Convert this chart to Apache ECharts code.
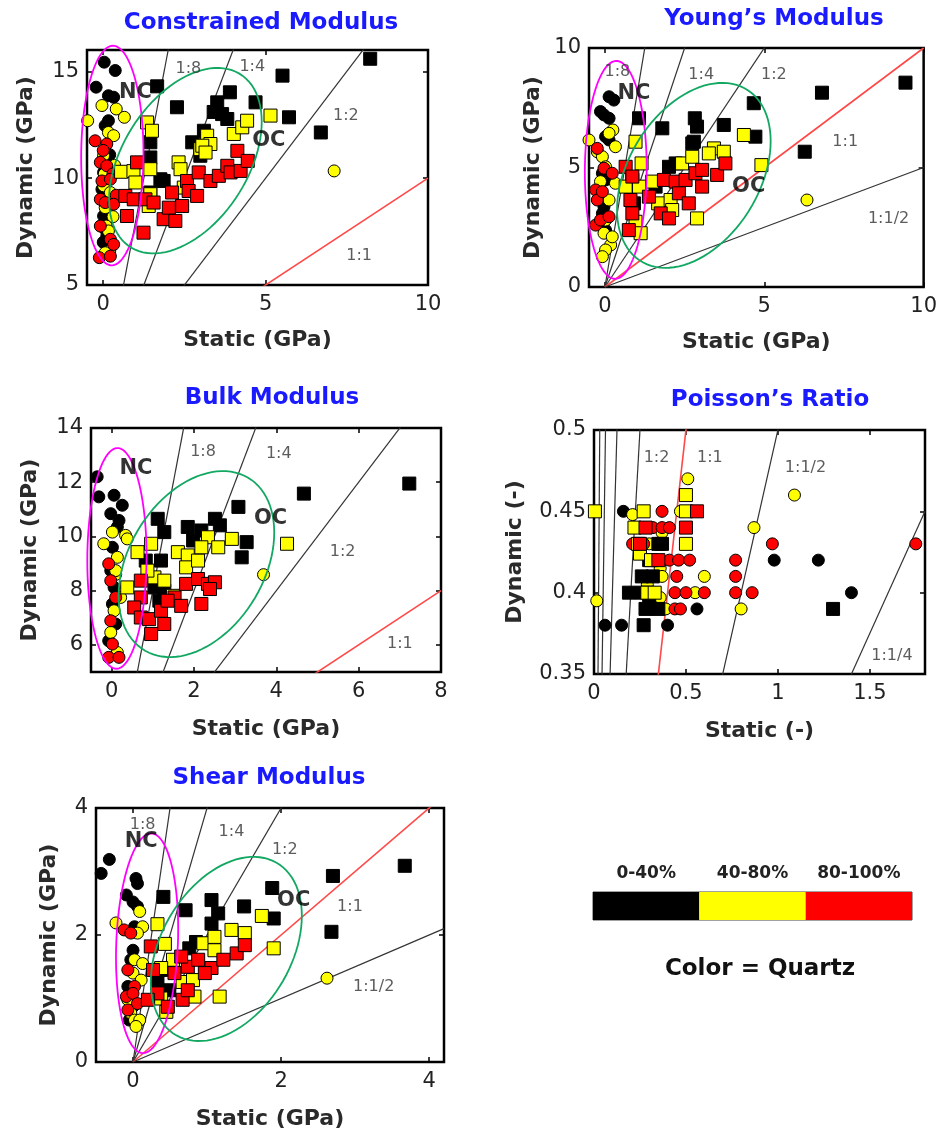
<!DOCTYPE html>
<html>
<head>
<meta charset="utf-8">
<script src="https://cdn.jsdelivr.net/npm/echarts@6/dist/echarts.min.js"></script>
<style>html,body{margin:0;background:#fff}#c{width:940px;height:1136px}</style>
</head>
<body>
<div id="c"></div>
<script>
// ---- Constrained modulus (static, dynamic) in GPa
const conNcBlack = [[0.03,15.43],[0.37,15.04],[-0.22,14.26],[0.16,13.86],[0.32,13.79],[0.16,12.69],[0.06,12.46],[0.2,11.1],[0.06,10.89],[0.01,10.27],[-0.04,9.48],[0.01,8.23],[0.1,8.0],[0.06,7.61],[0.11,7.29],[0.25,6.9],[0.0,7.0]];
const conNcYellow = [[-0.48,12.69],[-0.04,13.4],[0.4,13.24],[0.65,12.85],[0.16,12.14],[0.32,11.99],[0.01,11.05],[0.35,10.6],[0.03,10.19],[0.01,9.64],[0.22,9.33],[0.06,8.62],[0.3,8.2],[0.09,7.76],[0.16,7.53],[0.2,6.59],[0.06,6.51],[7.11,10.34]];
const conNcRed = [[-0.25,11.75],[0.11,11.6],[0.0,11.3],[-0.09,10.74],[0.11,10.58],[0.3,10.2],[-0.04,9.87],[0.22,9.95],[0.4,9.2],[-0.09,9.01],[0.06,8.86],[0.32,8.78],[-0.09,7.76],[0.22,7.14],[0.32,6.9],[-0.12,6.28],[0.22,6.35]];
const conOcBlack = [[1.66,14.3],[2.27,13.32],[1.45,11.68],[1.45,10.97],[1.45,9.33],[1.76,9.95],[1.86,9.87],[2.74,11.68],[2.99,11.05],[3.1,12.22],[3.4,13.1],[3.51,13.55],[3.66,13.0],[3.9,14.02],[3.82,12.77],[4.69,13.55],[5.52,14.8],[5.72,12.85],[6.7,12.14],[8.22,15.59]];
const conOcYellow = [[0.55,10.3],[0.93,10.33],[1.35,12.61],[1.5,12.22],[0.99,9.8],[1.45,10.42],[1.45,9.25],[1.4,8.7],[2.32,10.74],[2.38,10.42],[2.48,9.56],[2.99,11.36],[3.2,11.99],[3.3,11.6],[3.05,11.52],[3.15,11.2],[4.02,12.07],[4.28,12.38],[4.43,12.69],[5.15,12.93]];
const conOcRed = [[1.04,10.74],[0.68,9.17],[0.94,9.01],[0.73,8.23],[1.24,7.45],[1.3,9.01],[1.55,8.86],[1.86,8.08],[2.02,8.62],[2.22,8.0],[2.43,8.7],[2.12,9.33],[2.58,9.87],[2.63,9.4],[2.89,9.17],[2.94,10.27],[3.3,9.87],[3.56,10.11],[3.82,10.58],[3.92,10.27],[4.13,11.28],[4.23,10.34],[4.45,10.81]];

// ---- Young's modulus
const yngNcBlack = [[0.13,7.96],[0.28,7.82],[-0.14,7.34],[-0.03,7.2],[0.13,7.06],[0.02,6.29],[0.13,6.15],[-0.08,4.76],[0.02,4.48],[-0.14,3.64],[-0.03,3.36],[-0.08,3.08],[0.02,2.38]];
const yngNcYellow = [[-0.5,6.15],[0.25,6.57],[0.13,6.43],[-0.24,5.66],[0.33,5.87],[-0.08,5.45],[0.02,5.03],[-0.14,4.41],[0.33,4.34],[-0.14,3.92],[0.13,3.64],[0.02,2.8],[-0.03,2.25],[0.18,1.76],[0.02,1.55],[-0.08,1.27],[0.23,2.1],[6.34,3.64]];
const yngNcRed = [[-0.24,5.8],[-0.03,4.97],[-0.29,4.06],[-0.24,3.64],[-0.08,3.99],[-0.29,2.59],[-0.14,2.8],[0.13,2.94],[0.23,4.76]];
const yngOcBlack = [[1.07,7.06],[1.8,6.64],[2.82,7.06],[2.79,6.08],[2.89,6.71],[2.74,6.01],[3.73,6.78],[4.67,7.69],[4.72,6.29],[6.27,5.66],[6.81,8.13],[9.43,8.55],[2.01,5.03],[2.22,5.17],[1.59,4.2],[0.91,3.5],[0.86,4.48]];
const yngOcYellow = [[0.96,6.08],[1.15,5.17],[0.65,4.2],[1.07,4.2],[1.48,4.41],[1.67,3.5],[2.06,3.64],[0.96,2.73],[1.12,2.25],[2.42,5.17],[2.74,5.45],[3.42,5.8],[3.73,5.66],[3.26,5.59],[4.36,6.36],[4.91,5.1],[2.89,2.87],[2.11,3.22]];
const yngOcRed = [[0.65,5.03],[0.86,4.62],[0.8,3.64],[0.86,3.08],[0.75,2.38],[1.38,3.78],[1.75,3.08],[2.01,2.87],[1.85,4.48],[2.22,4.41],[2.53,4.48],[2.32,3.92],[2.84,4.76],[3.05,4.9],[3.52,4.69],[3.78,5.17],[3.05,4.2],[2.63,3.5]];

// ---- Bulk modulus
const blkNcBlack = [[-0.35,12.2],[-0.31,11.46],[0.06,11.52],[0.26,11.15],[-0.02,10.84],[0.18,10.59],[0.14,10.35],[0.02,9.6],[-0.02,8.74],[0.06,8.12],[0.02,7.51],[0.1,6.77],[-0.07,6.15]];
const blkNcYellow = [[0.02,10.16],[-0.19,9.73],[0.34,10.04],[0.38,9.91],[0.14,9.23],[0.1,8.6],[0.06,7.26],[-0.02,6.46],[0.14,5.72],[0.1,8.74],[0.22,7.75],[3.69,8.59]];
const blkNcRed = [[-0.07,8.99],[-0.02,8.37],[0.1,7.75],[-0.02,6.89],[0.02,6.03],[-0.07,5.54],[0.18,5.54]];
const blkOcBlack = [[1.12,10.65],[1.28,10.16],[1.85,10.35],[1.98,9.85],[2.18,10.22],[2.51,10.65],[2.63,10.41],[3.08,11.09],[3.28,9.79],[3.16,9.23],[4.67,11.58],[7.23,11.95],[0.83,9.11],[1.2,9.11],[1.04,8.12],[1.16,7.63],[1.28,8.0]];
const blkOcYellow = [[0.96,9.73],[0.63,9.42],[0.38,8.12],[1.04,8.49],[1.28,8.37],[1.61,9.42],[1.85,9.3],[1.81,8.86],[2.1,9.11],[2.34,9.97],[2.59,9.6],[2.92,9.91],[1.49,7.81],[2.18,9.6],[4.26,9.73],[0.87,8.74]];
const blkOcRed = [[0.71,8.37],[0.71,7.75],[0.55,7.38],[0.71,7.01],[0.96,6.4],[0.91,6.95],[1.28,6.77],[1.2,7.26],[1.53,7.75],[1.69,7.44],[1.81,8.25],[2.1,8.43],[2.18,7.51],[2.34,8.25],[2.51,8.31],[2.39,8.06],[1.36,7.63]];

// ---- Poisson's ratio (dimensionless)
const poiNcBlack = [[0.16,0.45],[0.06,0.38],[0.15,0.38],[0.4,0.38],[0.56,0.39],[0.98,0.42],[1.22,0.42],[1.4,0.4]];
const poiNcYellow = [[0.21,0.448],[0.47,0.45],[0.51,0.47],[0.37,0.437],[0.3,0.43],[0.36,0.415],[0.37,0.41],[0.6,0.41],[0.36,0.397],[0.55,0.4],[0.015,0.395],[0.39,0.39],[0.8,0.39],[0.87,0.44],[1.09,0.46],[0.33,0.4],[0.29,0.405]];
const poiNcRed = [[0.37,0.45],[0.27,0.44],[0.32,0.44],[0.37,0.44],[0.41,0.44],[0.21,0.43],[0.27,0.43],[0.41,0.42],[0.46,0.42],[0.52,0.42],[0.45,0.41],[0.77,0.42],[0.77,0.41],[0.44,0.4],[0.5,0.4],[0.6,0.4],[0.77,0.4],[0.86,0.4],[0.44,0.39],[0.47,0.39],[0.97,0.43],[1.75,0.43]];
const poiOcBlack = [[0.37,0.43],[0.35,0.43],[0.3,0.42],[0.26,0.41],[0.32,0.41],[0.19,0.4],[0.26,0.4],[0.3,0.395],[0.28,0.39],[0.35,0.39],[0.27,0.38],[1.3,0.39]];
const poiOcYellow = [[0.005,0.45],[0.27,0.45],[0.5,0.45],[0.5,0.46],[0.5,0.43],[0.22,0.44],[0.24,0.43],[0.25,0.424],[0.31,0.42],[0.29,0.4],[0.33,0.4]];
const poiOcRed = [[0.56,0.45],[0.5,0.44],[0.25,0.43],[0.35,0.42],[0.28,0.44]];

// ---- Shear modulus
const shrNcBlack = [[-0.43,2.97],[-0.32,3.19],[0.04,2.89],[0.06,2.81],[-0.09,2.63],[0.0,2.52],[0.06,2.45],[0.02,2.13],[0.0,1.76],[-0.03,1.61],[-0.07,1.19],[0.0,0.87],[-0.05,0.66]];
const shrNcYellow = [[-0.23,2.19],[0.09,2.37],[0.13,2.13],[0.06,2.03],[0.02,1.61],[0.13,1.55],[0.0,1.4],[0.11,1.29],[-0.03,0.77],[0.02,0.66],[0.09,0.66],[0.04,0.56],[-0.07,0.98],[2.62,1.32]];
const shrNcRed = [[-0.12,2.08],[-0.03,2.03],[-0.07,1.45],[0.02,1.19],[-0.09,1.03],[0.0,1.08],[0.06,0.92],[-0.07,0.82]];
const shrOcBlack = [[0.41,2.6],[0.71,2.39],[1.06,2.55],[1.15,2.34],[1.06,2.18],[1.5,2.45],[1.88,2.74],[1.9,2.26],[2.7,2.93],[2.68,2.05],[3.67,3.09],[0.76,1.79],[0.85,1.89],[0.38,1.45],[0.33,1.24],[0.49,1.13]];
const shrOcYellow = [[0.33,2.17],[0.43,1.86],[0.54,1.61],[0.38,1.48],[0.67,1.26],[0.81,1.29],[0.95,1.87],[1.1,1.76],[1.1,1.97],[1.33,2.08],[1.51,2.03],[1.74,2.3],[1.9,1.79],[1.17,1.03],[0.38,1.0],[0.45,0.79],[0.83,1.03]];
const shrOcRed = [[0.24,1.82],[0.27,1.45],[0.33,1.08],[0.2,0.98],[0.47,0.87],[0.56,1.4],[0.74,1.5],[0.88,1.61],[1.06,1.48],[1.22,1.61],[1.4,1.71],[1.51,1.84],[0.67,0.98],[0.74,1.13],[0.97,1.4],[0.65,1.66]];

// ratio lines (dynamic = k * static)
const conRatios = [8, 4, 2, 1];
const yngRatios = [8, 4, 2, 1, 0.5];
const blkRatios = [8, 4, 2, 1];
const poiRatios = [16, 8, 4, 2, 1, 0.5, 0.25];
const shrRatios = [8, 4, 2, 1, 0.5];

// ellipses: [cx, cy, rx, ry, tilt]
const conEllipses = [[0.28, 11.06, 0.96, 5.14, 0.02], [2.53, 10.82, 2.35, 4.34, 0.42]];
const yngEllipses = [[0.34, 4.9, 0.97, 4.56, 0.02], [2.79, 4.67, 2.41, 3.87, 0.37]];
const blkEllipses = [[0.13, 9.19, 0.72, 4.07, 0.02], [2.06, 8.98, 1.89, 3.43, 0.34]];
const shrEllipses = [[0.19, 1.87, 0.42, 1.73, 0.13], [1.26, 1.78, 1.02, 1.45, 0.36]];

// annotation labels [text, x, y]
const conRatioText = [['1:8', 2.62, 15.1], ['1:4', 4.59, 15.2], ['1:2', 7.47, 12.92], ['1:1', 7.88, 6.35]];
const yngRatioText = [['1:8', 0.39, 9.01], ['1:4', 3.02, 8.87], ['1:2', 5.3, 8.87], ['1:1', 7.54, 6.08], ['1:1/2', 8.9, 2.87]];
const blkRatioText = [['1:8', 2.22, 13.12], ['1:4', 4.06, 13.06], ['1:2', 5.61, 9.42], ['1:1', 7.0, 6.03]];
const poiRatioText = [['1:2', 0.34, 0.483], ['1:1', 0.63, 0.483], ['1:1/2', 1.15, 0.477], ['1:1/4', 1.62, 0.361]];
const shrRatioText = [['1:8', 0.13, 3.73], ['1:4', 1.33, 3.63], ['1:2', 2.05, 3.34], ['1:1', 2.93, 2.45], ['1:1/2', 3.25, 1.19]];
const conGroupText = [['NC', 0.99, 14.02], ['OC', 5.1, 11.75]];
const yngGroupText = [['NC', 0.91, 8.1], ['OC', 4.51, 4.2]];
const blkGroupText = [['NC', 0.59, 12.5], ['OC', 3.86, 10.66]];
const shrGroupText = [['NC', 0.11, 3.47], ['OC', 2.17, 2.55]];

const quartzBins = ['0-40%', '40-80%', '80-100%'];
const quartzColors = ['#000000', '#ffff00', '#ff0000'];

const FONT = 'DejaVu Sans';
const panels = [
  { title: 'Constrained Modulus', tx: 261, ty: 23, grid: { left: 87, top: 50, width: 341, height: 235 },
    x: [-0.5, 10, [0, 5, 10]], y: [5, 16, [5, 10, 15]], xName: 'Static (GPa)', yName: 'Dynamic (GPa)', xGap: 44, yGap: 50,
    pts: [conNcBlack, conNcYellow, conNcRed, conOcBlack, conOcYellow, conOcRed], ratios: conRatios, ell: conEllipses, rt: conRatioText, gt: conGroupText },
  { title: 'Young\u2019s Modulus', tx: 774, ty: 19, grid: { left: 589, top: 48, width: 338, height: 239 },
    x: [-0.5, 10, [0, 5, 10]], y: [0, 10, [0, 5, 10]], xName: 'Static (GPa)', yName: 'Dynamic (GPa)', xGap: 44, yGap: 45,
    pts: [yngNcBlack, yngNcYellow, yngNcRed, yngOcBlack, yngOcYellow, yngOcRed], ratios: yngRatios, ell: yngEllipses, rt: yngRatioText, gt: yngGroupText },
  { title: 'Bulk Modulus', tx: 272, ty: 398, grid: { left: 91, top: 428, width: 350, height: 244 },
    x: [-0.5, 8, [0, 2, 4, 6, 8]], y: [5, 14, [6, 8, 10, 12, 14]], xName: 'Static (GPa)', yName: 'Dynamic (GPa)', xGap: 46, yGap: 50,
    pts: [blkNcBlack, blkNcYellow, blkNcRed, blkOcBlack, blkOcYellow, blkOcRed], ratios: blkRatios, ell: blkEllipses, rt: blkRatioText, gt: blkGroupText },
  { title: 'Poisson\u2019s Ratio', tx: 770, ty: 400, grid: { left: 594, top: 430, width: 331, height: 244 },
    x: [0, 1.8, [0, 0.5, 1, 1.5]], y: [0.35, 0.5, [0.35, 0.4, 0.45, 0.5]], xName: 'Static (-)', yName: 'Dynamic (-)', xGap: 46, yGap: 68,
    pts: [poiNcBlack, poiNcYellow, poiNcRed, poiOcBlack, poiOcYellow, poiOcRed], ratios: poiRatios, ell: [], rt: poiRatioText, gt: [] },
  { title: 'Shear Modulus', tx: 269, ty: 778, grid: { left: 96, top: 808, width: 348, height: 254 },
    x: [-0.5, 4.2, [0, 2, 4]], y: [0, 4, [0, 2, 4]], xName: 'Static (GPa)', yName: 'Dynamic (GPa)', xGap: 46, yGap: 36,
    pts: [shrNcBlack, shrNcYellow, shrNcRed, shrOcBlack, shrOcYellow, shrOcRed], ratios: shrRatios, ell: shrEllipses, rt: shrRatioText, gt: shrGroupText }
];

const grids = [], xAxes = [], yAxes = [], series = [], graphics = [];
const mirrorX = [], mirrorY = [];
const markerColors = ['#000000', '#ffff00', '#ff0000'];
const ellColors = ['#ff00ff', '#12a862'];

panels.forEach((p, i) => {
  grids.push(Object.assign({ show: true, borderColor: '#000', borderWidth: 2.5, backgroundColor: '#fff' }, p.grid));
  const lab = { fontFamily: FONT, fontSize: 21, color: '#222' };
  const nameStyle = { fontFamily: FONT, fontSize: 22, fontWeight: 'bold', color: '#2a2a2a' };
  const tick = v => ({ inside: true, length: 5, customValues: v, lineStyle: { color: '#000', width: 1.5 } });
  xAxes.push({ gridIndex: i, type: 'value', min: p.x[0], max: p.x[1],
    axisLine: { show: false, onZero: false }, splitLine: { show: false }, axisTick: tick(p.x[2]),
    axisLabel: Object.assign({ customValues: p.x[2], margin: 9 }, lab),
    name: p.xName, nameLocation: 'middle', nameGap: p.xGap, nameTextStyle: nameStyle });
  yAxes.push({ gridIndex: i, type: 'value', min: p.y[0], max: p.y[1],
    axisLine: { show: false, onZero: false }, splitLine: { show: false }, axisTick: tick(p.y[2]),
    axisLabel: Object.assign({ customValues: p.y[2], margin: 8 }, lab),
    name: p.yName, nameLocation: 'middle', nameGap: p.yGap, nameRotate: 90, nameTextStyle: nameStyle });
  // mirrored ticks on the top and right frame edges
  mirrorX.push({ gridIndex: i, type: 'value', position: 'top', min: p.x[0], max: p.x[1],
    axisLine: { show: false, onZero: false }, splitLine: { show: false }, axisLabel: { show: false }, axisTick: tick(p.x[2]) });
  mirrorY.push({ gridIndex: i, type: 'value', position: 'right', min: p.y[0], max: p.y[1],
    axisLine: { show: false, onZero: false }, splitLine: { show: false }, axisLabel: { show: false }, axisTick: tick(p.y[2]) });

  p.ratios.forEach(k => {
    series.push({ type: 'line', xAxisIndex: i, yAxisIndex: i, silent: true, symbol: 'none', z: 1,
      data: [[0, 0], [p.x[1], k * p.x[1]]],
      lineStyle: { color: k === 1 ? '#ff4848' : '#333', width: k === 1 ? 1.6 : 1.2 } });
  });

  p.pts.forEach((arr, j) => {
    series.push({ type: 'scatter', xAxisIndex: i, yAxisIndex: i, silent: true, clip: false, z: 2,
      symbol: j < 3 ? 'circle' : 'rect', symbolSize: j < 3 ? 12 : 13, data: arr,
      itemStyle: { color: markerColors[j % 3], borderColor: '#000', borderWidth: 1, opacity: 1 } });
  });

  p.ell.forEach((e, j) => {
    series.push({ type: 'custom', xAxisIndex: i, yAxisIndex: i, silent: true, clip: false, z: 4,
      data: [e], encode: { x: 0, y: 1 },
      renderItem: (params, api) => {
        const cx = api.value(0), cy = api.value(1), rx = api.value(2), ry = api.value(3);
        const phi = Math.acos(api.value(4));
        const pts = [];
        for (let s = 0; s <= 96; s++) {
          const t = s / 96 * 2 * Math.PI;
          pts.push(api.coord([cx + rx * Math.cos(t), cy + ry * Math.cos(t - phi)]));
        }
        return { type: 'polyline', shape: { points: pts }, style: { fill: null, stroke: ellColors[j], lineWidth: 1.8 } };
      } });
  });

  series.push({ type: 'scatter', xAxisIndex: i, yAxisIndex: i, silent: true, clip: false, z: 5, symbolSize: 0,
    data: p.rt.map(d => ({ name: d[0], value: [d[1], d[2]] })),
    label: { show: true, position: 'inside', formatter: '{b}', fontFamily: FONT, fontSize: 16, color: '#333' } });
  series.push({ type: 'scatter', xAxisIndex: i, yAxisIndex: i, silent: true, clip: false, z: 6, symbolSize: 0,
    data: p.gt.map(d => ({ name: d[0], value: [d[1], d[2]] })),
    label: { show: true, position: 'inside', formatter: '{b}', fontFamily: FONT, fontSize: 21, fontWeight: 'bold', color: '#000' } });

  graphics.push({ type: 'text', x: p.tx, y: p.ty, style: { text: p.title, fill: '#1a1aff', font: 'bold 23px "DejaVu Sans"',
    align: 'center', verticalAlign: 'middle', textAlign: 'center', textVerticalAlign: 'middle' } });
});

// quartz colour bar
grids.push({ left: 593, top: 892, width: 319, height: 28, show: true, borderColor: '#444', borderWidth: 1 });
xAxes.push({ gridIndex: 5, type: 'category', data: quartzBins, position: 'top',
  axisLine: { show: false }, axisTick: { show: false },
  axisLabel: { interval: 0, fontFamily: FONT, fontSize: 17, fontWeight: 'bold', color: '#222', margin: 10 } });
yAxes.push({ gridIndex: 5, type: 'value', min: 0, max: 1, show: false });
series.push({ type: 'bar', xAxisIndex: 5, yAxisIndex: 5, silent: true, barWidth: '100%', barCategoryGap: '0%',
  data: quartzBins.map((b, i) => ({ value: 1, itemStyle: { color: quartzColors[i] } })) });
graphics.push({ type: 'text', x: 760, y: 969, style: { text: 'Color = Quartz', fill: '#111', font: 'bold 23px "DejaVu Sans"',
  align: 'center', verticalAlign: 'middle', textAlign: 'center', textVerticalAlign: 'middle' } });

const chart = echarts.init(document.getElementById('c'));
chart.setOption({
  backgroundColor: '#fff',
  animation: false,
  grid: grids,
  xAxis: xAxes.concat(mirrorX),
  yAxis: yAxes.concat(mirrorY),
  series: series,
  graphic: graphics
});
</script>
</body>
</html>
